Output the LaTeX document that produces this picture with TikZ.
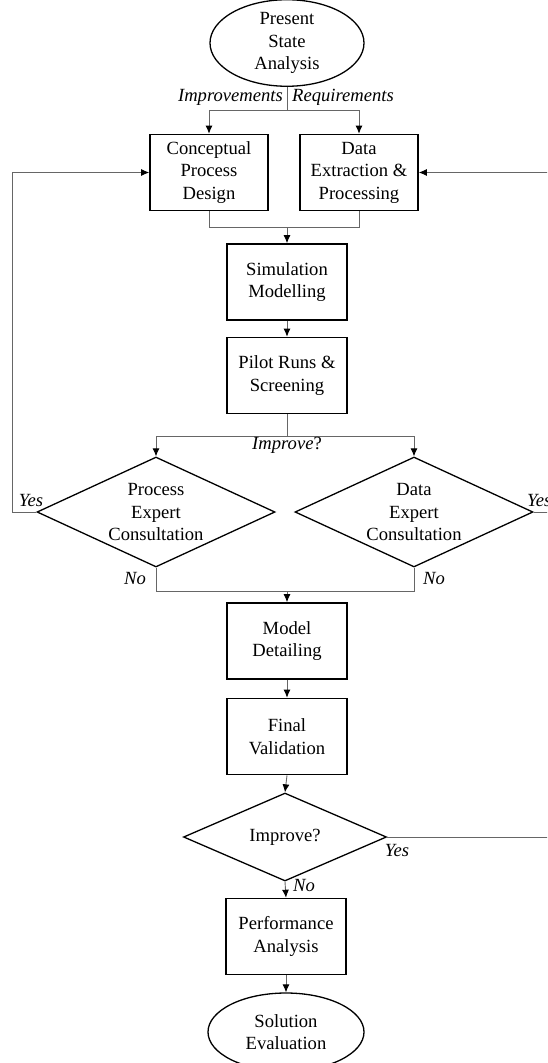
\documentclass[tikz,border=0pt]{standalone}
\usepackage{fontspec}
\setmainfont{Liberation Serif}
\usetikzlibrary{shapes.geometric,arrows.meta}
\begin{document}
\begin{tikzpicture}[x=1pt,y=-1pt,
  every node/.style={font=\fontsize{18.6}{22.5}\selectfont},
  lowtext/.style={execute at begin node={\rule{0pt}{20.5pt}}},
  proc/.style={draw=black,line width=1.6pt,minimum width=118pt,minimum height=76pt,align=center,inner sep=0pt,lowtext},
  term/.style={draw=black,line width=1.3pt,ellipse,minimum width=154pt,minimum height=78pt,align=center,inner sep=0pt,lowtext},
  deci/.style={draw=black,line width=1.3pt,diamond,align=center,inner sep=0pt},
  conn/.style={draw=black!60,line width=0.9pt},
  arr/.style={conn,-{Latex[length=8pt,width=7pt,black]}},
  lbl/.style={font=\fontsize{18.6}{22.5}\selectfont\itshape,inner sep=1pt}]
\useasboundingbox (0,0) rectangle (547,1063);
\clip (0,0) rectangle (547,1063);
% nodes
\node[term,minimum height=80pt] (psa) at (287,43) {Present\\State\\Analysis};
\node[proc] (cpd) at (209,172.5) {Conceptual\\Process\\Design};
\node[proc] (dep) at (359,172.5) {Data\\Extraction \&\\Processing};
\node[proc,minimum width=120pt] (sim) at (287,282) {Simulation\\Modelling};
\node[proc,minimum width=120pt] (pil) at (287,375.5) {Pilot Runs \&\\Screening};
\node[deci,aspect=2.16,minimum width=238pt,minimum height=110pt] (ped) at (156,512) {Process\\Expert\\Consultation};
\node[deci,aspect=2.16,minimum width=238pt,minimum height=110pt] (ded) at (414,512) {Data\\Expert\\Consultation};
\node[proc,minimum width=120pt] (mdl) at (287,641) {Model\\Detailing};
\node[proc,minimum width=120pt] (fvl) at (287,736.5) {Final\\Validation};
\node[deci,aspect=2.3,minimum width=203pt,minimum height=88pt] (imp) at (285,837) {Improve?};
\node[proc,minimum width=120pt] (pfa) at (286,936.5) {Performance\\Analysis};
\node[term,minimum width=156pt,minimum height=78pt] (sev) at (286,1032) {Solution\\Evaluation};
% junctions
\coordinate (j1) at (287,110);
\coordinate (j2) at (287,227);
\coordinate (j3) at (287,436);
\coordinate (j4) at (287,591);
\coordinate (l1) at (12,512);
\coordinate (r1) at (570,837);
% connectors
\draw[conn] (psa.south) -- (j1);
\draw[arr] (j1) -| (cpd.north);
\draw[arr] (j1) -| (dep.north);
\draw[conn] (cpd.south) |- (j2);
\draw[conn] (dep.south) |- (j2);
\draw[arr] (j2) -- (sim.north);
\draw[arr] (sim.south) -- (pil.north);
\draw[conn] (pil.south) -- (j3);
\draw[arr] (j3) -| (ped.north);
\draw[arr] (j3) -| (ded.north);
\draw[arr] (ped.west) -- (l1) |- (cpd.west);
\draw[conn] (ded.east) -- (ded.east -| r1);
\draw[conn] (ped.south) |- (j4);
\draw[conn] (ded.south) |- (j4);
\draw[arr] (j4) -- (mdl.north);
\draw[arr] (mdl.south) -- (fvl.north);
\draw[arr] (fvl.south) -- (imp.north);
\draw[arr] (imp.east) -- (r1) |- (dep.east);
\draw[arr] (imp.south) -- (pfa.north);
\draw[arr] (pfa.south) -- (sev.north);
% labels
\node[lbl,anchor=east] (limpr) at (284,97) {Improvements};
\node[lbl,anchor=west] (lreq) at (291,97) {Requirements};
\node[font=\fontsize{18.6}{22.5}\selectfont] (lq) at (287,445) {\textit{Improve}?};
\node[lbl] (ly1) at (31,500) {Yes};
\node[lbl,anchor=west] (ly2) at (526,500) {Yes};
\node[lbl] (ln1) at (135,578) {No};
\node[lbl] (ln2) at (434,578) {No};
\node[lbl] (ly3) at (397,850) {Yes};
\node[lbl] (ln3) at (304,885) {No};
\end{tikzpicture}
\end{document}
